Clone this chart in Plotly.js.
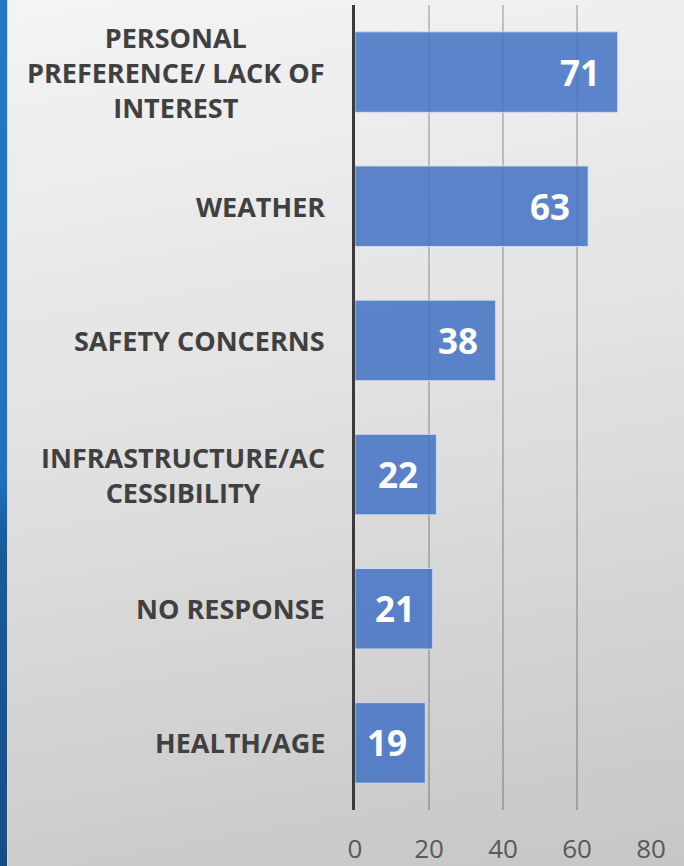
<!DOCTYPE html>
<html>
<head>
<meta charset="utf-8">
<script src="https://cdn.plot.ly/plotly-3.0.1.min.js"></script>
<style>
  html, body { margin:0; padding:0; width:684px; height:866px; overflow:hidden; }
  body { background: linear-gradient(170deg, #f4f4f4 0%, #e2e2e2 45%, #c6c6c6 100%); position:relative; }
  #strip { position:absolute; left:0; top:0; width:7px; height:866px;
    background: linear-gradient(180deg, #2378c6 0%, #1f72bf 55%, #1a5c9c 62%, #164d85 100%); }
  #stripedge { position:absolute; left:7px; top:0; width:1px; height:866px; background:#d8d8d8; }
  #chart { position:absolute; left:0; top:0; width:684px; height:866px; }
</style>
</head>
<body>
<div id="strip"></div>
<div id="stripedge"></div>
<div id="chart"></div>
<script>
const categories = [
  "PERSONAL<br>PREFERENCE/ LACK OF<br>INTEREST",
  "WEATHER",
  "SAFETY CONCERNS",
  "INFRASTRUCTURE/AC<br>CESSIBILITY",
  "NO RESPONSE",
  "HEALTH/AGE"
];
const values = [71, 63, 38, 22, 21, 19];
const xTicks = [0, 20, 40, 60, 80];

const catsRev = categories.slice().reverse();
const valsRev = values.slice().reverse();

const trace = {
  type: 'bar',
  orientation: 'h',
  x: valsRev,
  y: catsRev,
  width: 0.6,
  marker: { color: 'rgba(68,114,196,0.86)', line: { color: 'rgba(210,222,242,0.9)', width: 1 } },
  hoverinfo: 'skip'
};

const annotations = [];
categories.forEach((c, i) => {
  annotations.push({
    xref: 'paper', yref: 'y', x: 0, y: c, xanchor: 'right', yanchor: 'middle',
    xshift: -28, align: 'center', showarrow: false, text: c,
    font: { family: 'Open Sans', size: 27, color: '#404040', weight: 700 }
  });
  annotations.push({
    xref: 'x', yref: 'y', x: values[i], y: c, xanchor: 'right', yanchor: 'middle',
    xshift: -16, showarrow: false, text: String(values[i]),
    font: { family: 'Open Sans', size: 35, color: '#ffffff', weight: 700 }
  });
});

const layout = {
  width: 684, height: 866,
  margin: { l: 355, r: 33, t: 5, b: 56, pad: 0 },
  paper_bgcolor: 'rgba(0,0,0,0)',
  plot_bgcolor: 'rgba(0,0,0,0)',
  showlegend: false,
  bargap: 0.4,
  xaxis: {
    range: [0, 80], tickvals: xTicks, ticktext: xTicks.map(String),
    showgrid: true, gridcolor: 'rgba(0,0,0,0.2)', gridwidth: 1.5,
    zeroline: false, showline: false, ticks: '',
    ticklabelstandoff: 21,
    tickfont: { family: 'Open Sans', size: 26, color: '#595959' }
  },
  yaxis: {
    categoryorder: 'array', categoryarray: catsRev,
    showticklabels: false, showgrid: false, zeroline: false, ticks: '',
    showline: true, linecolor: '#3a3a3a', linewidth: 3
  },
  annotations: annotations
};

Plotly.newPlot('chart', [trace], layout, { displayModeBar: false, staticPlot: true });
</script>
</body>
</html>
